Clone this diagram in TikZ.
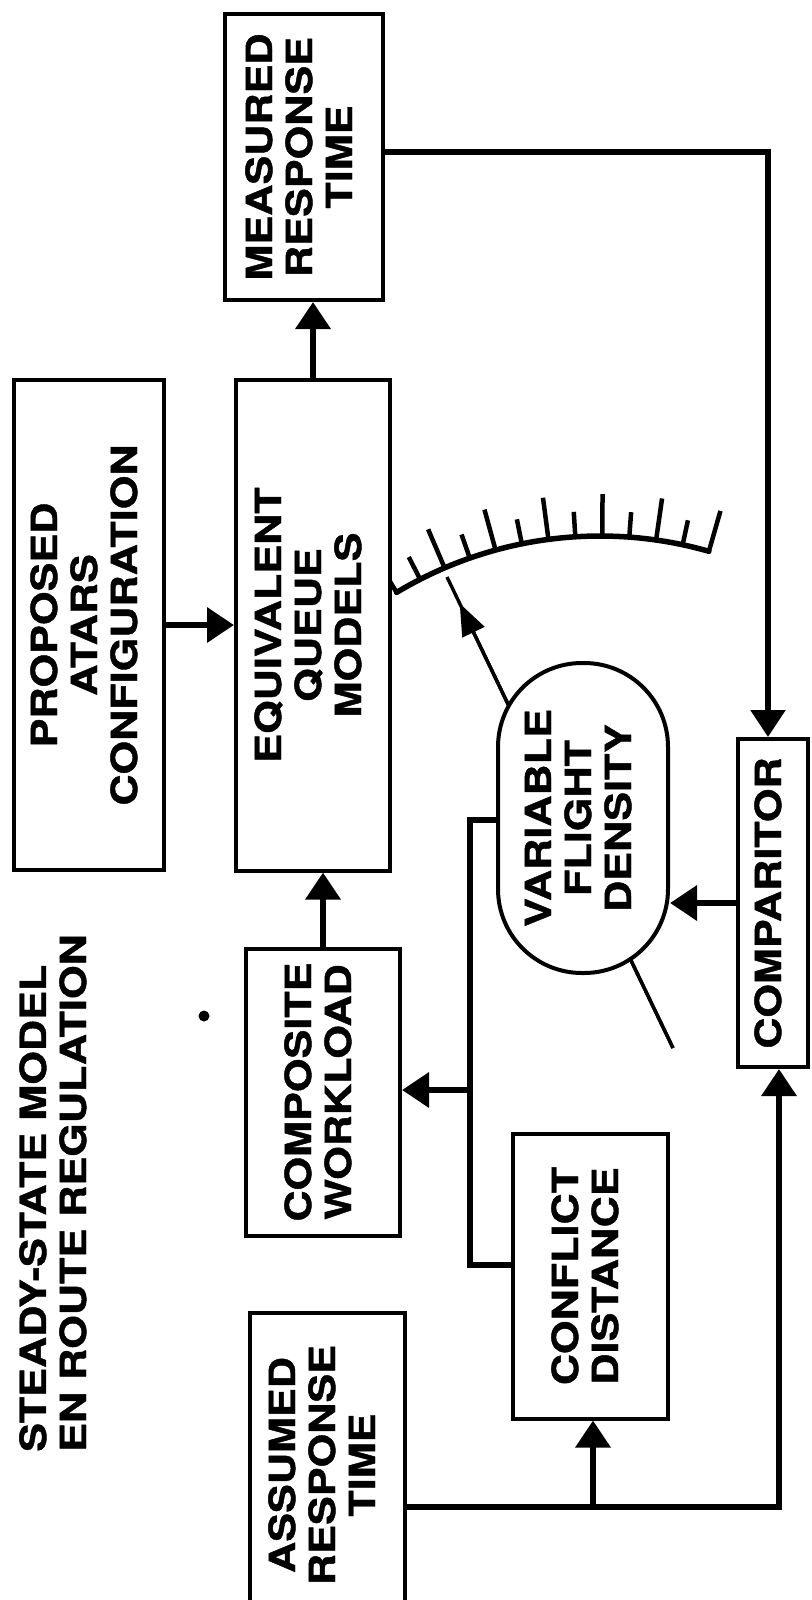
\documentclass[tikz,border=0pt]{standalone}
\usepackage{fontspec}
\usepackage{graphicx}
\usetikzlibrary{arrows.meta,calc}
\newfontfamily\labfont[FakeStretch=1.2,BoldFeatures={FakeStretch=1.2,FakeBold=1.2}]{TeX Gyre Heros}
\newcommand{\vtext}[1]{\rotatebox{90}{\begin{tabular}{@{}c@{}}#1\end{tabular}}}
\newcommand{\vtextl}[1]{\rotatebox{90}{\begin{tabular}{@{}l@{}}#1\end{tabular}}}
\begin{document}
\begin{tikzpicture}[x=1pt,y=-1pt,
  lab/.style={font=\labfont\bfseries\fontsize{36}{40}\selectfont},
  box/.style={lab, draw, line width=4pt, inner sep=0pt, rectangle, fill=white},
  conn/.style={line width=6.5pt},
  arr/.style={conn, -{Triangle[length=27pt,width=34pt]}},
  thinconn/.style={line width=5.5pt},
  needleline/.style={line width=3.4pt},
  gaugeline/.style={line width=5.5pt, line cap=round},
  tickline/.style={line width=4.5pt},
]
\fill[white] (0,0) rectangle (811,1600);
\useasboundingbox (0,0) rectangle (811,1600);

% title
\node[lab, anchor=south, inner sep=0pt] (title) at (58,1452)
  {\vtextl{STEADY-STATE MODEL\\EN ROUTE REGULATION}};
\fill (204,1016) circle[radius=5.5pt];

% gauge scale
\draw[gaugeline] plot[domain=74:121,samples=60,smooth] ({600+395*cos(\x)},{931-395*sin(\x)});
\foreach \i in {0,...,12}{
  \pgfmathsetmacro\a{121-\i*47/12}
  \pgfmathsetmacro\L{ifthenelse(mod(\i,2)==0,42,25)}
  \draw[tickline] ({600+395*cos(\a)},{931-395*sin(\a)}) -- ({600+(395+\L)*cos(\a)},{931-(395+\L)*sin(\a)});
}
% needle
\coordinate (ntail) at (673,1048);
\coordinate (ntip) at (447,577);
\draw[needleline] (ntail) -- (ntip);
\draw[needleline,-{Triangle[length=32pt,width=24pt]}] (ntail) -- ($(ntail)!0.944!(ntip)$);

% boxes
\node[box, minimum width=158pt, minimum height=286pt] (meas) at (304,157) {\vtext{MEASURED\\RESPONSE\\TIME}};
\node[box, minimum width=150pt, minimum height=490pt] (prop) at (89,625) {\vtext{PROPOSED\\ATARS\\CONFIGURATION}};
\node[box, minimum width=154pt, minimum height=491pt] (equiv) at (313,625) {\vtext{EQUIVALENT\\QUEUE\\MODELS}};
\node[box, minimum width=154pt, minimum height=287pt] (comp) at (323,1092) {\vtext{COMPOSITE\\WORKLOAD}};
\node[box, minimum width=155pt, minimum height=285pt] (conf) at (590,1276) {\vtext{CONFLICT\\DISTANCE}};
\node[box, minimum width=155pt, minimum height=304pt] (assumed) at (327,1465) {\vtext{ASSUMED\\RESPONSE\\TIME}};
\node[box, minimum width=70pt, minimum height=328pt] (cmp) at (773,903) {\vtext{COMPARITOR}};
\node[box, rounded corners=84pt, minimum width=170pt, minimum height=310pt] (vfd) at (583,818) {\vtext{VARIABLE\\FLIGHT\\DENSITY}};

% connectors
\draw[arr] (prop.east) -- (prop.east -| equiv.west);
\draw[arr] (equiv.north) -- (equiv.north |- meas.south);
\draw[arr] (comp.north) -- (comp.north |- equiv.south);
\draw[thinconn, -{Triangle[length=27pt,width=34pt]}] ([yshift=5pt]meas.east) -| ([xshift=-5pt]cmp.north);
\coordinate (aj) at (593,1507);
\draw[arr] (assumed.east |- aj) -| ([xshift=6pt]cmp.south);
\draw[arr] (aj) -- (aj |- conf.south);
\coordinate (b1) at (470,1265);
\coordinate (b2) at (470,1090);
\coordinate (b3) at (470,820);
\draw[conn] (conf.west |- b1) -- (b1) -- (b3) -- (b3 -| vfd.west);
\draw[arr] (b2) -- (b2 -| comp.east);
\draw[arr] (cmp.west) -- (cmp.west -| vfd.east);
\end{tikzpicture}
\end{document}
